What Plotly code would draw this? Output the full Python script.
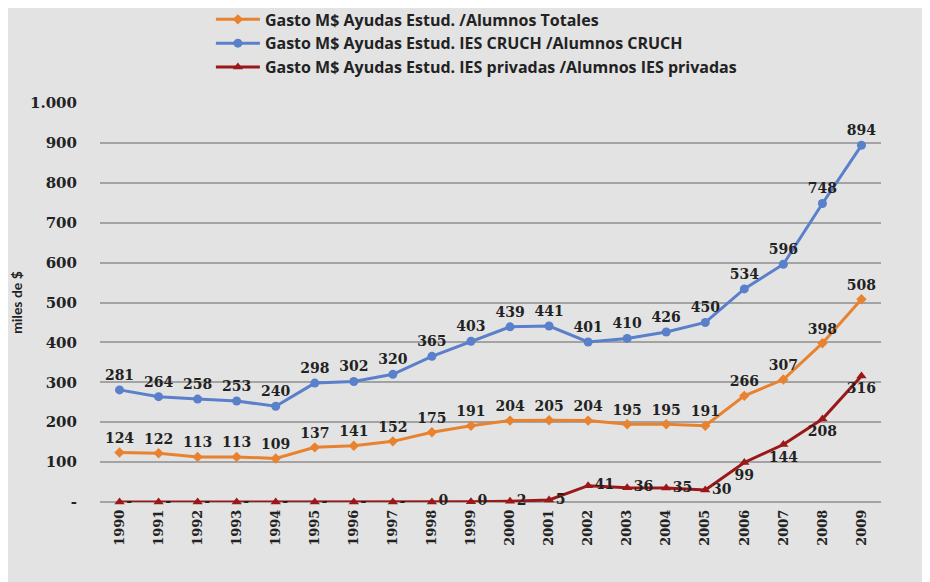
import plotly.graph_objects as go

years = [str(y) for y in range(1990, 2010)]
totales = [124, 122, 113, 113, 109, 137, 141, 152, 175, 191, 204, 205, 204, 195, 195, 191, 266, 307, 398, 508]
cruch = [281, 264, 258, 253, 240, 298, 302, 320, 365, 403, 439, 441, 401, 410, 426, 450, 534, 596, 748, 894]
privadas = [0, 0, 0, 0, 0, 0, 0, 0, 0.3, 0.4, 2, 5, 41, 36, 35, 30, 99, 144, 208, 316]

y_tickvals = [0, 100, 200, 300, 400, 500, 600, 700, 800, 900, 1000]
y_ticktext = ["-", "100", "200", "300", "400", "500", "600", "700", "800", "900", "1.000"]

names = [
    "Gasto M$ Ayudas Estud. /Alumnos Totales",
    "Gasto M$ Ayudas Estud. IES CRUCH /Alumnos CRUCH",
    "Gasto M$ Ayudas Estud. IES privadas /Alumnos IES privadas",
]


def fmt(v):
    return "-" if v == 0 else f"{v:.0f}"


label_font = dict(family="DejaVu Serif", size=14, color="#222222", weight="bold")

fig = go.Figure()
fig.add_trace(go.Scatter(
    x=years, y=totales, name=names[0], mode="lines+markers+text",
    line=dict(color="#E8822E", width=3),
    marker=dict(symbol="diamond", size=8, color="#E8822E"),
    text=[fmt(v) for v in totales], textposition="top center",
    textfont=label_font, cliponaxis=False,
))
fig.add_trace(go.Scatter(
    x=years, y=cruch, name=names[1], mode="lines+markers+text",
    line=dict(color="#5A7FCB", width=3),
    marker=dict(symbol="circle", size=9, color="#5A7FCB"),
    text=[fmt(v) for v in cruch], textposition="top center",
    textfont=label_font, cliponaxis=False,
))
priv_pos = ["middle right"] * 16 + ["bottom center"] * 4
fig.add_trace(go.Scatter(
    x=years, y=privadas, name=names[2], mode="lines+markers+text",
    line=dict(color="#9A1818", width=3),
    marker=dict(symbol="triangle-up", size=9, color="#9A1818"),
    text=[fmt(v) for v in privadas], textposition=priv_pos,
    textfont=label_font, cliponaxis=False,
))

fig.update_layout(
    width=930, height=582,
    margin=dict(l=92, r=57, t=95, b=88, autoexpand=False),
    paper_bgcolor="#E3E3E3", plot_bgcolor="#E3E3E3",
    showlegend=True,
    legend=dict(
        x=0.142, y=1.252, xanchor="left", yanchor="top",
        bgcolor="rgba(0,0,0,0)",
        font=dict(family="Open Sans", size=16, color="#222222", weight="bold"),
        tracegroupgap=0, itemwidth=44,
    ),
    font=dict(family="DejaVu Serif", color="#222222"),
)
fig.update_xaxes(
    type="category", tickangle=-90, showgrid=False, showline=False, ticks="",
    tickfont=dict(family="DejaVu Serif", size=13, color="#222222", weight="bold"),
    range=[-0.5, 19.5], ticklabelstandoff=4,
)
fig.update_yaxes(
    range=[0, 1000], tickvals=y_tickvals, ticktext=y_ticktext,
    showgrid=True, gridcolor="#A3A3A3", gridwidth=2,
    zeroline=True, zerolinecolor="#A3A3A3", zerolinewidth=2,
    tickfont=dict(family="DejaVu Serif", size=15, color="#222222", weight="bold"),
    ticklabelstandoff=22,
    title=dict(text="miles de $", font=dict(family="Lato", size=14, color="#222222", weight="bold"), standoff=14),
)

fig.write_html("out.html")
